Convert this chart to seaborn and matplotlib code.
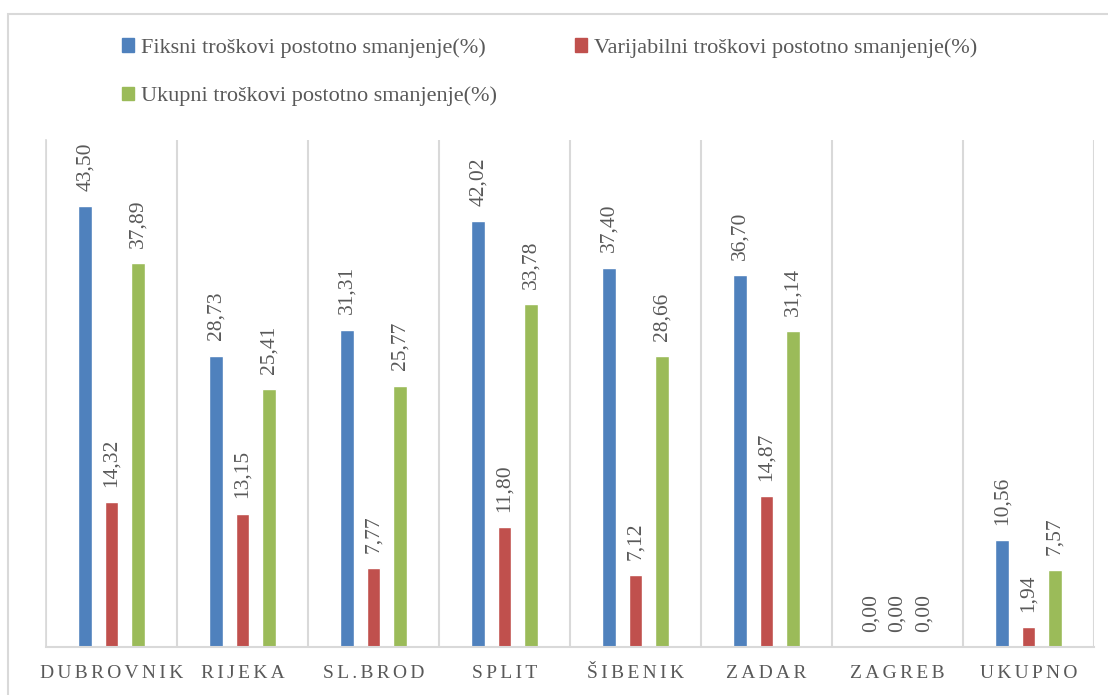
import pandas as pd
import matplotlib.pyplot as plt
import seaborn as sns
from matplotlib.patches import Rectangle

sns.set_theme(style="white")
plt.rcParams['font.family'] = ['Liberation Serif', 'DejaVu Serif']

# data
gradovi = ["DUBROVNIK", "RIJEKA", "SL.BROD", "SPLIT", "ŠIBENIK", "ZADAR", "ZAGREB", "UKUPNO"]
fiksni = [43.50, 28.73, 31.31, 42.02, 37.40, 36.70, 0.00, 10.56]
varijabilni = [14.32, 13.15, 7.77, 11.80, 7.12, 14.87, 0.00, 1.94]
ukupni = [37.89, 25.41, 25.77, 33.78, 28.66, 31.14, 0.00, 7.57]
serije = ["Fiksni troškovi postotno smanjenje(%)",
          "Varijabilni troškovi postotno smanjenje(%)",
          "Ukupni troškovi postotno smanjenje(%)"]
boje = ["#4F81BD", "#C0504D", "#9BBB59"]

df = pd.DataFrame({"Grad": gradovi * 3,
                   "Serija": [serije[0]] * 8 + [serije[1]] * 8 + [serije[2]] * 8,
                   "Vrijednost": fiksni + varijabilni + ukupni})

fig = plt.figure(figsize=(11.08, 6.95), dpi=100)
ax = fig.add_axes([46 / 1108, 1 - 647 / 695, (1094 - 46) / 1108, (647 - 140) / 695])

sns.barplot(data=df, x="Grad", y="Vrijednost", hue="Serija", palette=boje,
            width=0.6, gap=0.47, ax=ax, legend=False, saturation=1)

siva = "#595959"
for cont in ax.containers:
    ax.bar_label(cont, labels=[f"{v:.2f}".replace(".", ",") for v in cont.datavalues],
                 rotation=90, padding=11, color=siva, fontsize=15.5)

ax.set_ylim(0, 50)
ax.set_xlim(-0.5, 7.5)
ax.set_yticks([])
ax.set_xlabel("")
ax.set_ylabel("")
for x in range(9):
    ax.axvline(x - 0.5, color="#D9D9D9", lw=1.5, zorder=0)
for s in ["top", "right"]:
    ax.spines[s].set_visible(False)
ax.spines["left"].set_color("#D9D9D9")
ax.spines["bottom"].set_color("#D9D9D9")
ax.spines["bottom"].set_linewidth(1.5)
ax.set_xticks(range(8))
ax.set_xticklabels(["\u200a\u200a".join(g) for g in gradovi], fontsize=14, color=siva)
ax.tick_params(axis="x", length=0, pad=13)

# legend: row-wise order (Fiksni, Varijabilni / Ukupni)
red = [0, 2, 1]
handles = [Rectangle((0, 0), 1, 1, color=boje[i]) for i in red]
fig.legend(handles, [serije[i] for i in red], loc="upper left",
           bbox_to_anchor=(122 / 1108, 1 - 38 / 695),
           ncol=2, frameon=False, fontsize=16, labelcolor=siva,
           handlelength=0.55, handleheight=0.55, handletextpad=0.3,
           columnspacing=3.5, labelspacing=1.3, borderpad=0, borderaxespad=0)

fig.patches.append(Rectangle((8 / 1108, -0.1), 1.2, 1 - 14 / 695 + 0.1, transform=fig.transFigure,
                             fill=False, edgecolor="#D9D9D9", lw=1.5))

fig.savefig("out.png", dpi=100)
